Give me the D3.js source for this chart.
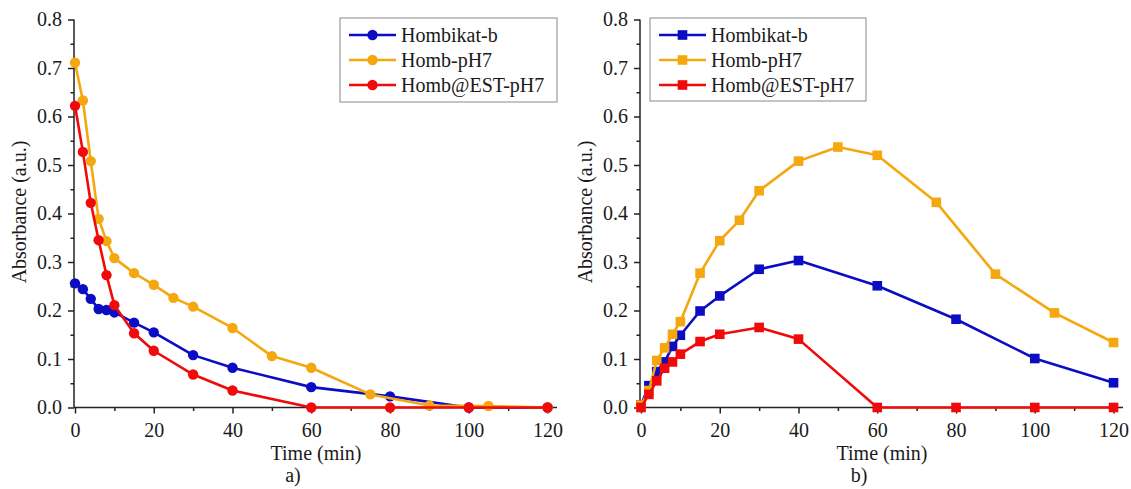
<!DOCTYPE html>
<html>
<head>
<meta charset="utf-8">
<script src="https://cdn.jsdelivr.net/npm/d3@7"></script>
<style>
  body { margin: 0; background: #fff; }
  svg text { font-family: "Liberation Serif", "Times New Roman", serif; fill: #1a1a1a; }
</style>
</head>
<body>
<svg id="chart" width="1131" height="489"></svg>
<script>
/* data */

const seriesNames = ["Hombikat-b", "Homb-pH7", "Homb@EST-pH7"];
const seriesColors = ["#0c0cc4", "#f5a70f", "#f00a0a"];

// panel a) – circles
const aBlueT = [0, 2, 4, 6, 8, 10, 15, 20, 30, 40, 60, 80, 100, 120];
const aBlueY = [0.256, 0.244, 0.224, 0.203, 0.201, 0.196, 0.175, 0.155, 0.108, 0.082, 0.042, 0.023, 0, 0];
const aOrangeT = [0, 2, 4, 6, 8, 10, 15, 20, 25, 30, 40, 50, 60, 75, 90, 105, 120];
const aOrangeY = [0.711, 0.633, 0.508, 0.389, 0.343, 0.308, 0.277, 0.253, 0.226, 0.208, 0.164, 0.106, 0.082, 0.027, 0.004, 0.003, 0];
const aRedT = [0, 2, 4, 6, 8, 10, 15, 20, 30, 40, 60, 80, 100, 120];
const aRedY = [0.622, 0.527, 0.422, 0.345, 0.273, 0.211, 0.153, 0.117, 0.068, 0.035, 0, 0, 0, 0];

// panel b) – squares
const bBlueT = [0, 2, 4, 6, 8, 10, 15, 20, 30, 40, 60, 80, 100, 120];
const bBlueY = [0.005, 0.045, 0.074, 0.094, 0.126, 0.149, 0.199, 0.230, 0.285, 0.303, 0.251, 0.182, 0.101, 0.051];
const bOrangeT = [0, 2, 4, 6, 8, 10, 15, 20, 25, 30, 40, 50, 60, 75, 90, 105, 120];
const bOrangeY = [0.005, 0.035, 0.097, 0.123, 0.151, 0.177, 0.277, 0.344, 0.386, 0.447, 0.508, 0.537, 0.520, 0.423, 0.275, 0.195, 0.134];
const bRedT = [0, 2, 4, 6, 8, 10, 15, 20, 30, 40, 60, 80, 100, 120];
const bRedY = [0, 0.027, 0.055, 0.081, 0.094, 0.110, 0.136, 0.151, 0.165, 0.141, 0, 0, 0, 0];

const xTicks = [0, 20, 40, 60, 80, 100, 120];
const yTicks = [0, 0.1, 0.2, 0.3, 0.4, 0.5, 0.6, 0.7, 0.8];

function zip(t, y) {
  return t.map((d, i) => ({ t: d, v: y[i] }));
}

const panels = [
  { left: 75, label: "a)", marker: "circle",
    series: [zip(aBlueT, aBlueY), zip(aOrangeT, aOrangeY), zip(aRedT, aRedY)],
    legend: { x: 340, y: 18, w: 217, h: 84 } },
  { left: 641, label: "b)", marker: "square",
    series: [zip(bBlueT, bBlueY), zip(bOrangeT, bOrangeY), zip(bRedT, bRedY)],
    legend: { x: 650, y: 18, w: 216, h: 83 } }
];

const svg = d3.select("#chart");
const plotTop = 19.5, plotBottom = 407.5, plotW = 482;
const fontSize = 20;

function drawMarker(g, kind, x, y, color) {
  if (kind == "circle") {
    g.append("circle").attr("cx", x).attr("cy", y).attr("r", 5.2).attr("fill", color);
  } else {
    g.append("rect").attr("x", x - 4.8).attr("y", y - 4.8)
      .attr("width", 9.6).attr("height", 9.6).attr("fill", color);
  }
}

panels.forEach(p => {
  const x = d3.scaleLinear().domain([0, 122.4]).range([p.left, p.left + plotW]);
  const y = d3.scaleLinear().domain([0, 0.8]).range([plotBottom, plotTop]);
  const g = svg.append("g");

  // minor ticks
  g.append("g")
    .attr("transform", `translate(0,${plotBottom})`)
    .call(d3.axisBottom(x).tickValues(d3.range(10, 121, 20)).tickSize(3.5).tickFormat(""))
    .call(a => a.select(".domain").remove());
  g.append("g")
    .attr("transform", `translate(${p.left - 1},0)`)
    .call(d3.axisLeft(y).tickValues(d3.range(0.05, 0.8, 0.1)).tickSize(3.5).tickFormat(""))
    .call(a => a.select(".domain").remove());

  // major axes
  const xa = g.append("g")
    .attr("transform", `translate(0,${plotBottom})`)
    .call(d3.axisBottom(x).tickValues(xTicks).tickSize(6).tickSizeOuter(0).tickPadding(9).tickFormat(d3.format("d")));
  const ya = g.append("g")
    .attr("transform", `translate(${p.left - 1},0)`)
    .call(d3.axisLeft(y).tickValues(yTicks).tickSize(6).tickSizeOuter(0).tickPadding(6).tickFormat(d3.format(".1f")));
  xa.select(".domain").attr("d", `M${p.left - 1},0H${p.left + plotW}`);
  ya.select(".domain").attr("d", `M0,${plotBottom}V${plotTop}`);
  g.selectAll(".domain, .tick line").attr("stroke", "#222").attr("stroke-width", 1.5);
  g.selectAll(".tick text").attr("font-size", fontSize).attr("fill", "#1a1a1a")
    .style("font-family", "'Liberation Serif', serif");

  // axis titles
  g.append("text")
    .attr("x", p.left + 241).attr("y", 460)
    .attr("text-anchor", "middle").attr("font-size", fontSize)
    .text("Time (min)");
  g.append("text")
    .attr("transform", `translate(${p.left - 49},212) rotate(-90)`)
    .attr("text-anchor", "middle").attr("font-size", fontSize)
    .text("Absorbance (a.u.)");
  g.append("text")
    .attr("x", p.left + 218).attr("y", 482)
    .attr("text-anchor", "middle").attr("font-size", fontSize)
    .text(p.label);

  // series
  const line = d3.line().x(d => x(d.t)).y(d => y(d.v));
  p.series.forEach((s, i) => {
    const sg = g.append("g");
    sg.append("path").datum(s).attr("d", line)
      .attr("fill", "none").attr("stroke", seriesColors[i])
      .attr("stroke-width", 2.6).attr("stroke-linejoin", "round");
    s.forEach(d => drawMarker(sg, p.marker, x(d.t), y(d.v), seriesColors[i]));
  });

  // legend
  const L = p.legend;
  const lg = g.append("g");
  lg.append("rect").attr("x", L.x).attr("y", L.y).attr("width", L.w).attr("height", L.h)
    .attr("fill", "#fff").attr("stroke", "#888").attr("stroke-width", 1);
  seriesNames.forEach((name, i) => {
    const ry = L.y + 17 + i * 25;
    lg.append("line").attr("x1", L.x + 9).attr("x2", L.x + 56)
      .attr("y1", ry).attr("y2", ry)
      .attr("stroke", seriesColors[i]).attr("stroke-width", 2.6);
    drawMarker(lg, p.marker, L.x + 32.5, ry, seriesColors[i]);
    lg.append("text").attr("x", L.x + 61).attr("y", ry + 7)
      .attr("font-size", fontSize).text(name);
  });
});
</script>
</body>
</html>
